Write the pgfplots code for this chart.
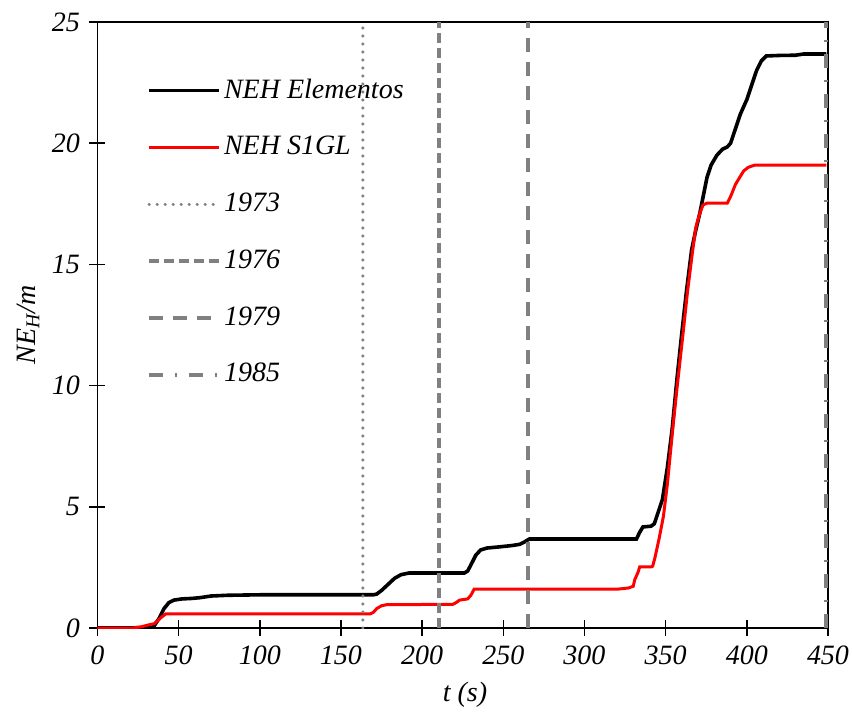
\documentclass[border=0pt]{standalone}
\usepackage{fontspec}
\setmainfont{Liberation Serif}
\usepackage{pgfplots}
\pgfplotsset{compat=1.18}
\definecolor{gr}{RGB}{128,128,128}
\definecolor{rd}{RGB}{255,0,0}
\begin{document}
\fontsize{14}{16}\selectfont
\begin{tikzpicture}
\useasboundingbox (-48.75pt,-43pt) rectangle (377.25pt,314pt);
\begin{axis}[
  at={(0,0)}, anchor=south west,
  scale only axis, width=365.25pt, height=303pt,
  xmin=0, xmax=450, ymin=0, ymax=25,
  xtick={0,50,...,450}, ytick={0,5,...,25},
  tick align=center, major tick length=8pt,
  tick style={black, line width=0.8pt},
  axis line style={line width=0.8pt},
  xtick pos=bottom, ytick pos=left,
  /pgf/number format/assume math mode=true,
  ticklabel style={font=\fontsize{14}{16}\selectfont\itshape},
  xlabel={\textit{t (s)}},
  ylabel={\textit{NE\textsubscript{H}/m}},
  label style={font=\fontsize{14}{16}\selectfont},
  xlabel style={at={(axis description cs:0.503,-0.11)}, anchor=center},
  ylabel style={at={(axis description cs:-0.0951,0.5)}, anchor=center, rotate=0},
  legend style={draw=none, fill=none, at={(axis description cs:0.0678,0.912)}, anchor=north west,
     font=\fontsize{14}{16}\selectfont\itshape, inner sep=0pt, row sep=14pt,
     nodes={inner sep=1.5pt}},
  legend cell align=left,
  legend image code/.code={\draw[#1] (0pt,0pt) -- (35pt,0pt);},
]
\addplot[black, line width=1.8pt] coordinates {
(0,0) (20,0) (28,0.02) (32,0.05) (35,0.1) (38,0.4) (41,0.8) (44,1.05) (47,1.15) (52,1.2) (58,1.22) (63,1.25) (70,1.32) (80,1.35) (100,1.37) (150,1.37) (170,1.37) (172,1.4) (175,1.55) (179,1.8) (183,2.05) (187,2.2) (192,2.27) (200,2.27) (226,2.27) (228,2.35) (230,2.6) (233,3.0) (236,3.22) (240,3.3) (248,3.35) (255,3.4) (260,3.45) (263,3.55) (266,3.67) (300,3.67) (332,3.67) (334,3.95) (336,4.17) (341,4.2) (343,4.3) (345,4.7) (348,5.3) (351,6.6) (354,8.2) (357,10.3) (360,12.2) (363,14.0) (366,15.6) (368.5,16.4) (371,17.1) (375.5,18.6) (378,19.1) (381.5,19.5) (385,19.75) (388,19.85) (390,20.0) (392,20.4) (396,21.2) (400,21.8) (403,22.4) (406,23.0) (409,23.4) (412,23.6) (420,23.62) (430,23.63) (435,23.68) (449,23.68)
};
\addlegendentry{NEH Elementos}
\addplot[rd, line width=1.5pt] coordinates {
(0,0) (22,0) (27,0.05) (31,0.12) (35,0.18) (37,0.3) (39.5,0.45) (42,0.58) (60,0.58) (168,0.58) (170,0.65) (172,0.8) (175,0.92) (178,0.96) (200,0.97) (219,0.98) (221,1.05) (223,1.15) (228,1.2) (230,1.35) (232,1.6) (260,1.6) (320,1.6) (327,1.65) (330,1.72) (331,2.0) (333,2.3) (334,2.52) (341,2.52) (342,2.55) (343.4,2.9) (346,3.7) (348.6,4.6) (351,5.9) (354.5,8.3) (357,9.9) (360.8,12.2) (363.5,13.9) (366.5,15.5) (368.5,16.5) (371,17.1) (373,17.45) (375.5,17.53) (388,17.53) (390,17.8) (393,18.3) (395.7,18.6) (398,18.85) (400.7,19.0) (405,19.1) (449,19.1)
};
\addlegendentry{NEH S1GL}
\addplot[gr, line width=1.7pt, line cap=round, dash pattern=on 0pt off 4pt] coordinates {(163.5,0) (163.5,25)};
\addlegendentry{1973}
\addplot[gr, line width=1.8pt, dash pattern=on 5pt off 2.5pt] coordinates {(210.4,0) (210.4,25)};
\addlegendentry{1976}
\addplot[gr, line width=1.8pt, dash pattern=on 7pt off 5pt] coordinates {(265.2,0) (265.2,25)};
\addlegendentry{1979}
\addplot[gr, line width=1.8pt, dash pattern=on 7pt off 6pt on 1pt off 6pt] coordinates {(448.8,0) (448.8,25)};
\addlegendentry{1985}
\end{axis}
\end{tikzpicture}
\end{document}
